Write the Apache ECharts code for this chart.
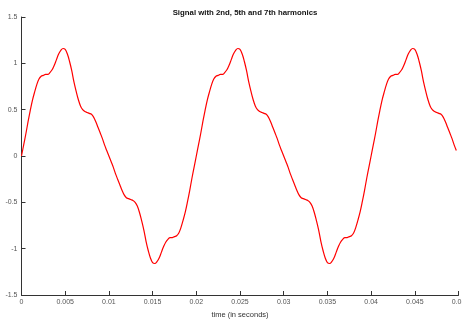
<!DOCTYPE html>
<html>
<head>
<meta charset="utf-8">
<script src="https://cdn.jsdelivr.net/npm/echarts@6/dist/echarts.min.js"></script>
<style>
  html, body { margin: 0; padding: 0; background: #fff; }
  #chart { width: 462px; height: 320px; }
</style>
</head>
<body>
<div id="chart"></div>
<script>
// Sampled signal: one sample every 0.25 ms, starting at t = 0 s
const sampleStep = 0.00025;
const signalValues = [
  // 0 – 10 ms
  0, 0.12, 0.24, 0.37, 0.49, 0.60, 0.69, 0.77, 0.83, 0.86,
  0.87, 0.88, 0.88, 0.90, 0.93, 0.98, 1.04, 1.10, 1.14, 1.16,
  1.15, 1.10, 1.02, 0.92, 0.80, 0.70, 0.61, 0.54, 0.50, 0.48,
  0.47, 0.46, 0.45, 0.42, 0.37, 0.31, 0.25, 0.19, 0.12, 0.06,
  // 10 – 20 ms
  0, -0.06, -0.12, -0.19, -0.25, -0.31, -0.37, -0.42, -0.45, -0.46,
  -0.47, -0.48, -0.50, -0.54, -0.61, -0.70, -0.80, -0.92, -1.02, -1.10,
  -1.15, -1.16, -1.14, -1.10, -1.04, -0.98, -0.93, -0.90, -0.88, -0.88,
  -0.87, -0.86, -0.83, -0.77, -0.69, -0.60, -0.49, -0.37, -0.24, -0.12,
  // 20 – 30 ms
  0, 0.12, 0.24, 0.37, 0.49, 0.60, 0.69, 0.77, 0.83, 0.86,
  0.87, 0.88, 0.88, 0.90, 0.93, 0.98, 1.04, 1.10, 1.14, 1.16,
  1.15, 1.10, 1.02, 0.92, 0.80, 0.70, 0.61, 0.54, 0.50, 0.48,
  0.47, 0.46, 0.45, 0.42, 0.37, 0.31, 0.25, 0.19, 0.12, 0.06,
  // 30 – 40 ms
  0, -0.06, -0.12, -0.19, -0.25, -0.31, -0.37, -0.42, -0.45, -0.46,
  -0.47, -0.48, -0.50, -0.54, -0.61, -0.70, -0.80, -0.92, -1.02, -1.10,
  -1.15, -1.16, -1.14, -1.10, -1.04, -0.98, -0.93, -0.90, -0.88, -0.88,
  -0.87, -0.86, -0.83, -0.77, -0.69, -0.60, -0.49, -0.37, -0.24, -0.12,
  // 40 – 50 ms
  0, 0.12, 0.24, 0.37, 0.49, 0.60, 0.69, 0.77, 0.83, 0.86,
  0.87, 0.88, 0.88, 0.90, 0.93, 0.98, 1.04, 1.10, 1.14, 1.16,
  1.15, 1.10, 1.02, 0.92, 0.80, 0.70, 0.61, 0.54, 0.50, 0.48,
  0.47, 0.46, 0.45, 0.42, 0.37, 0.31, 0.25, 0.19, 0.12, 0.06
];

const xTickStep = 0.005;
const xRange = [0, 0.05];
const yTickStep = 0.5;
const yRange = [-1.5, 1.5];

const chartTitle = 'Signal with 2nd, 5th and 7th harmonics';
const xAxisTitle = 'time (in seconds)';

const points = signalValues.map((v, i) => [i * sampleStep, v]);

const fontFamily = 'Liberation Sans, Arial, Helvetica, sans-serif';
const chart = echarts.init(document.getElementById('chart'), null, { renderer: 'canvas' });

chart.setOption({
  animation: false,
  backgroundColor: '#ffffff',
  title: {
    text: chartTitle,
    left: 240,
    textAlign: 'center',
    top: 4,
    textStyle: { fontFamily, fontSize: 7.8, fontWeight: 'bold', color: '#111' }
  },
  grid: { left: 21.5, right: 3.5, top: 17, bottom: 25, containLabel: false, outerBoundsMode: 'none' },
  xAxis: {
    type: 'value',
    min: xRange[0],
    max: xRange[1],
    interval: xTickStep,
    name: xAxisTitle,
    nameLocation: 'middle',
    nameGap: 13,
    nameTextStyle: { fontFamily, fontSize: 7.5, color: '#333' },
    axisLine: { show: true, onZero: false, lineStyle: { color: '#333', width: 1 } },
    axisTick: { show: true, inside: true, length: 4, lineStyle: { color: '#333' } },
    axisLabel: {
      fontFamily, fontSize: 7, color: '#555', margin: 4,
      formatter: v => String(+v.toFixed(3))
    },
    splitLine: { show: false }
  },
  yAxis: {
    type: 'value',
    min: yRange[0],
    max: yRange[1],
    interval: yTickStep,
    axisLine: { show: true, onZero: false, lineStyle: { color: '#333', width: 1 } },
    axisTick: { show: true, inside: true, length: 4, lineStyle: { color: '#333' } },
    axisLabel: {
      fontFamily, fontSize: 7, color: '#555', margin: 4,
      formatter: v => String(+v.toFixed(2))
    },
    splitLine: { show: false }
  },
  series: [{
    type: 'line',
    data: points,
    smooth: 0.4,
    showSymbol: false,
    lineStyle: { color: '#ff0000', width: 1.2 },
    itemStyle: { color: '#ff0000' }
  }]
});
</script>
</body>
</html>
